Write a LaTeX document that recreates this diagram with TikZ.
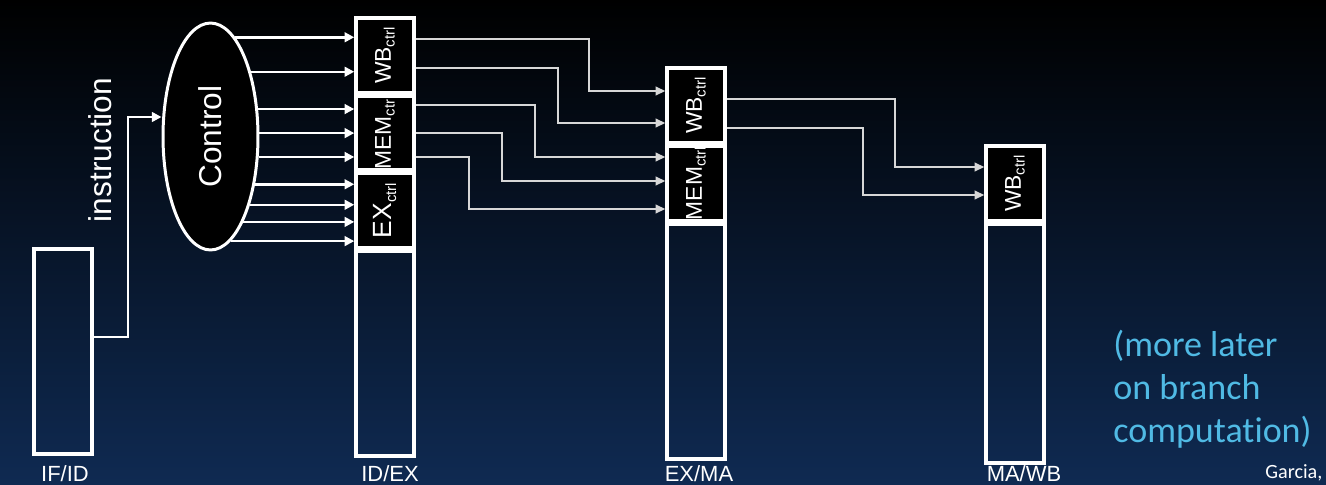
\documentclass[tikz,border=0pt]{standalone}
\usepackage{fontspec}
\setmainfont{Liberation Sans}
\newfontfamily\notefont[Ligatures=NoCommon]{Carlito}
\usetikzlibrary{arrows.meta,shapes.geometric}

\definecolor{bgtop}{RGB}{0,0,0}
\definecolor{bgmid}{RGB}{5,17,35}
\definecolor{bgbot}{RGB}{15,42,82}
\definecolor{noteblue}{RGB}{80,186,228}
\definecolor{wiregray}{RGB}{215,215,215}

\newcommand{\regtag}[1]{#1\raisebox{-.3ex}{\fontsize{8.5}{8.5}\selectfont ctrl}}

\begin{document}
\begin{tikzpicture}[x=0.02cm,y=-0.02cm,
  reg/.style={draw=white,line width=2pt,minimum width=1.16cm,inner sep=0pt},
  ctl/.style={reg,fill=black},
  tag/.style={white,rotate=90,inner sep=0pt,font=\fontsize{13}{13}\selectfont},
  sig/.style={white,line width=1.4pt,-{Triangle[length=5.5pt,width=5.5pt]}},
  wire/.style={wiregray,line width=0.85pt,-{Triangle[length=5.5pt,width=5pt]}},
  stage/.style={white,anchor=base,inner sep=0pt,font=\fontsize{12.5}{12.5}\selectfont}]
\useasboundingbox (0,0) rectangle (1326,484);
\clip (0,0) rectangle (1326,484);
\shade[top color=bgtop,middle color=bgmid,bottom color=bgbot] (0,0) rectangle (1326,484);

% pipeline registers
\node[reg,minimum height=4.1cm] (ifid) at (63,351.5) {};
\node[ctl,minimum height=1.5cm] (idexwb) at (385,55.5) {};
\node[ctl,minimum height=1.48cm] (idexmem) at (385,133) {};
\node[ctl,minimum height=1.5cm] (idexex) at (385,210.5) {};
\node[reg,minimum height=4.1cm] (idexrest) at (385,353.5) {};
\node[ctl,minimum height=1.5cm] (exmawb) at (696,105.5) {};
\node[ctl,minimum height=1.5cm] (exmamem) at (696,183.5) {};
\node[reg,minimum height=4.7cm] (exmarest) at (696,341.5) {};
\node[ctl,minimum height=1.5cm] (mawbwb) at (1015,183.5) {};
\node[reg,minimum height=4.78cm] (mawbrest) at (1015,343.5) {};

\node[tag] (idexwbt) at (idexwb) {\regtag{WB}};
\node[tag] (idexmemt) at (idexmem) {\regtag{MEM}};
\node[tag,font=\fontsize{15}{15}\selectfont] (idexext) at (idexex) {\regtag{EX}};
\node[tag] (exmawbt) at (exmawb) {\regtag{WB}};
\node[tag] (exmamemt) at (exmamem) {\regtag{MEM}};
\node[tag] (mawbwbt) at (mawbwb) {\regtag{WB}};

% control unit
\node[ellipse,draw=white,fill=black,line width=1.7pt,minimum width=1.9cm,
  minimum height=4.54cm,inner sep=0pt] (ctrl) at (210.5,136.5) {};
\node[tag,font=\fontsize{18}{18}\selectfont] (ctrllbl) at (ctrl) {Control};
\node[tag,font=\fontsize{18}{18}\selectfont] (instr) at (100,150) {instruction};

\draw[sig] (ifid.east |- 0,337) -| (128,117) -- (ctrl.west |- 0,117);
\foreach \y/\dst in {38/idexwb,73/idexwb,109/idexmem,133/idexmem,157/idexmem,
                     183/idexex,204/idexex,222/idexex,241/idexex}{
  \pgfmathsetmacro\ang{atan2(136.5-\y,47.5*sqrt(1-((136.5-\y)/113.5)^2))}
  \draw[sig] (ctrl.\ang) -- (\dst.west |- ctrl.\ang);
}

% control bits passed down the pipe
\foreach \ya/\xm/\yb/\src/\dst in {39/589/91/idexwb/exmawb,68/558/123/idexwb/exmawb,
    105/535/157/idexmem/exmamem,133/502/181/idexmem/exmamem,157/469/209/idexmem/exmamem,
    99/895/167/exmawb/mawbwb,128/863/195/exmawb/mawbwb}
  \draw[wire] (\src.east |- 0,\ya) -| (\xm,\yb) -- (\dst.west |- 0,\yb);

\node[stage] (lifid) at (65,481) {IF/ID};
\node[stage] (lidex) at (390,481) {ID/EX};
\node[stage] (lexma) at (699,481) {EX/MA};
\node[stage] (lmawb) at (1024,481) {MA/WB};

\node[noteblue,anchor=north west,align=left,inner sep=0pt,
  font=\notefont\fontsize{20.5}{24.4}\selectfont] (note) at (1113,330)
  {(more later\\on branch\\computation)};
\node[white,anchor=base west,inner sep=0pt,font=\notefont\fontsize{11.5}{11.5}\selectfont]
  (credit) at (1265,478) {Garcia,};
\end{tikzpicture}
\end{document}
